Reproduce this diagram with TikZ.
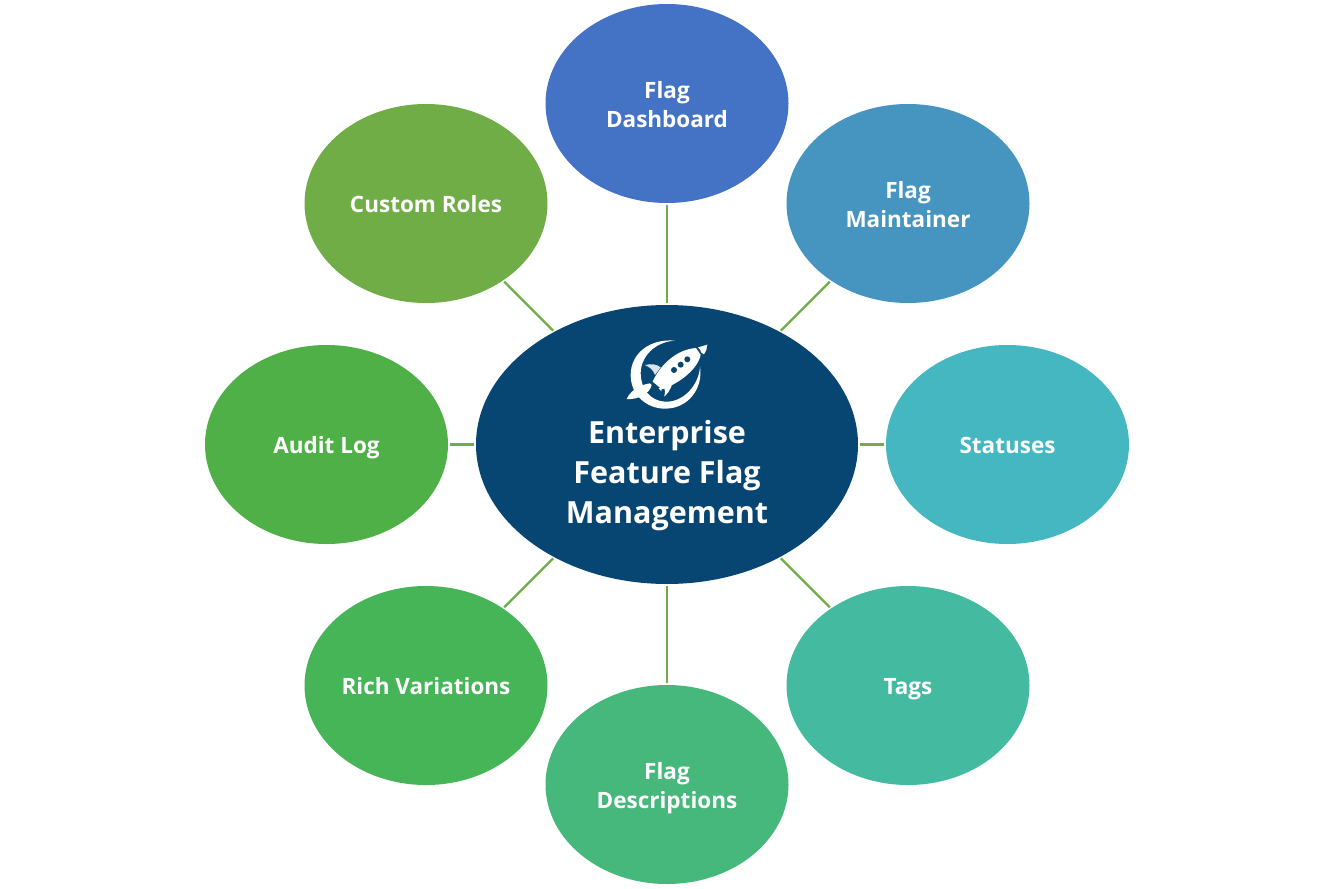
\documentclass[tikz,border=0pt]{standalone}
\usepackage{fontspec}
\setmainfont{Open Sans}
\usetikzlibrary{shapes.geometric}
\definecolor{hubblue}{HTML}{074672}
\definecolor{linkgreen}{HTML}{70AD47}
\definecolor{dashboardblue}{HTML}{4472C4}
\definecolor{maintainerblue}{HTML}{4595C0}
\definecolor{statusteal}{HTML}{45B7C0}
\definecolor{tagteal}{HTML}{44BBA0}
\definecolor{descgreen}{HTML}{46B87C}
\definecolor{richgreen}{HTML}{45B558}
\definecolor{auditgreen}{HTML}{50B048}
\tikzset{
	petal/.style={ellipse, draw=none, fill=#1, minimum width=243pt, minimum height=199pt, inner sep=0pt, align=center, text=white, text height=17pt, text depth=0pt, font=\fontsize{22.5}{29}\selectfont\bfseries},
	twolines/.style={text height=48pt},
	link/.style={draw=linkgreen, line width=2.2pt, shorten >=1.5pt, shorten <=1.5pt}
}

\begin{document}
\begin{tikzpicture}[x=1pt, y=-1pt]
				\useasboundingbox (0,0) rectangle (1334,889);
				
				% 中心
				\node[ellipse, fill=hubblue, minimum width=382pt, minimum height=279pt, inner sep=0pt] (hub) at (667,444.5) {};
				\node[align=center, text=white, font=\fontsize{30.5}{40}\selectfont\bfseries] (hubtext) at (667,476) {Enterprise\\Feature Flag\\Management};
				
				% 外圈
				\node[petal=dashboardblue, twolines] (dashboard) at (667,103.5) {Flag\\Dashboard};
				\node[petal=maintainerblue, twolines] (maintainer) at (908,203.5) {Flag\\Maintainer};
				\node[petal=statusteal] (statuses) at (1007.5,444.5) {Statuses};
				\node[petal=tagteal] (tags) at (908,685.5) {Tags};
				\node[petal=descgreen, twolines] (descriptions) at (667,784.5) {Flag\\Descriptions};
				\node[petal=richgreen] (variations) at (426,685.5) {Rich Variations};
				\node[petal=auditgreen] (audit) at (326.5,444.5) {Audit Log};
				\node[petal=linkgreen] (roles) at (426,203.5) {Custom Roles};
				
				% 连线
				\draw[link] (hub) -- (dashboard);
				\draw[link] (hub) -- (maintainer);
				\draw[link] (hub) -- (statuses);
				\draw[link] (hub) -- (tags);
				\draw[link] (hub) -- (descriptions);
				\draw[link] (hub) -- (variations);
				\draw[link] (hub) -- (audit);
				\draw[link] (hub) -- (roles);
				
				% 火箭图标
				\begin{scope}[shift={(600,320)}, x=0.3333pt, y=-0.3333pt]
					% 月牙
					\fill[white] (225,62) .. controls (150,55) and (92,100) .. (92,165) .. controls (92,225) and (140,266) .. (195,266) .. controls (265,266) and (310,205) .. (300,140) .. controls (297,195) and (250,248) .. (195,245) .. controls (150,243) and (122,205) .. (122,160) .. controls (122,110) and (165,65) .. (225,62) -- cycle;
					% 箭身
					\fill[hubblue] (150,190) -- (190,215) -- (240,190) -- (200,140) -- cycle;
					\fill[white] (158,185) .. controls (180,135) and (230,88) .. (288,84) -- (302,104) .. controls (295,145) and (240,190) .. (186,208) -- cycle;
					\fill[white] (294,82) -- (322,74) .. controls (322,85) and (318,95) .. (312,103) -- (304,98) .. controls (303,92) and (299,87) .. (294,82) -- cycle;
					% 尾翼
					\fill[white!85!hubblue] (135,135) .. controls (155,130) and (170,133) .. (182,142) -- (165,165) .. controls (160,150) and (150,142) .. (135,135) -- cycle;
					\fill[white] (192,200) -- (221,172) .. controls (218,195) and (210,215) .. (193,230) .. controls (196,220) and (196,210) .. (192,200) -- cycle;
					\fill[white] (176,205) -- (186,200) -- (184,214) -- cycle;
					% 尾焰
					\fill[white] (80,237) .. controls (90,215) and (115,195) .. (150,190) -- (155,195) .. controls (150,220) and (115,240) .. (80,237) -- cycle;
					% 舷窗
					\fill[hubblue] (222,150) circle (9);
					\fill[hubblue] (242,134) circle (9);
					\fill[hubblue] (262,118) circle (9);
				\end{scope}
			\end{tikzpicture}
\end{document}
